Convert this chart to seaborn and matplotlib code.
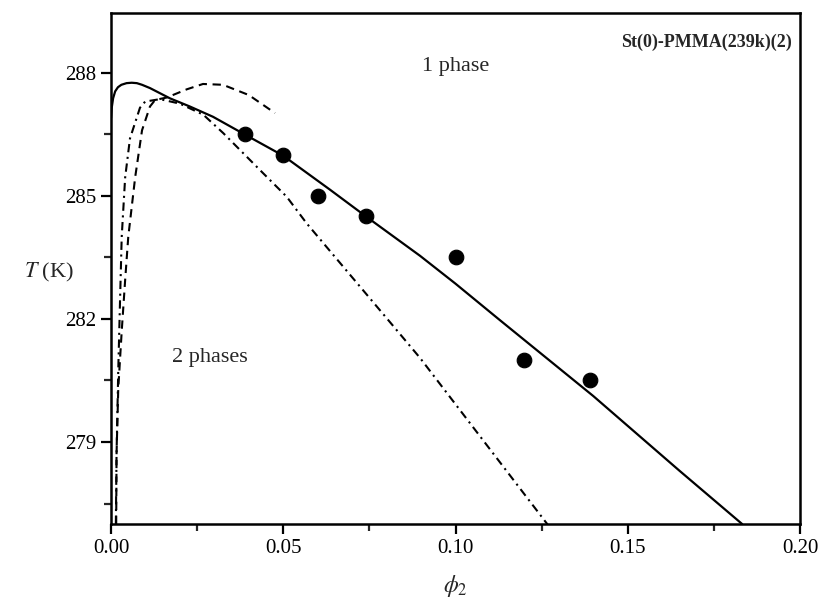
import numpy as np
import pandas as pd
import matplotlib
matplotlib.use("Agg")
import matplotlib.pyplot as plt
import seaborn as sns
from matplotlib.ticker import MultipleLocator

# experimental cloud points
exp_phi = [0.039, 0.050, 0.060, 0.074, 0.100, 0.120, 0.139]
exp_T = [286.5, 286.0, 285.0, 284.5, 283.5, 281.0, 280.5]

# model curves
solid_phi = [0.0, 0.0002, 0.0006, 0.0012, 0.002, 0.003, 0.0045, 0.006, 0.0075, 0.009,
             0.0113, 0.0171, 0.0229, 0.0296, 0.039, 0.050, 0.0636, 0.074, 0.0897,
             0.100, 0.1129, 0.140, 0.165, 0.1832]
solid_T = [286.9, 287.15, 287.38, 287.55, 287.65, 287.71, 287.75, 287.76, 287.75, 287.71,
           287.63, 287.38, 287.18, 286.93, 286.49, 285.98, 285.15, 284.5, 283.54,
           282.86, 281.97, 280.12, 278.3, 277.0]

dash_phi = [0.0015, 0.0016, 0.0021, 0.0031, 0.0041, 0.005, 0.007, 0.009, 0.0113,
            0.0128, 0.0162, 0.022, 0.0267, 0.0325, 0.040, 0.0476]
dash_T = [277.0, 278.7, 280.3, 281.7, 282.95, 284.0, 285.45, 286.6, 287.18,
          287.34, 287.4, 287.6, 287.73, 287.71, 287.46, 287.02]

dashdot_phi = [0.0014, 0.0016, 0.0021, 0.0026, 0.0031, 0.0041, 0.0055, 0.0084, 0.0099,
               0.0142, 0.020, 0.0268, 0.0326, 0.0384, 0.0442, 0.051, 0.0568, 0.0804,
               0.0897, 0.1268]
dashdot_T = [277.0, 278.7, 280.75, 282.4, 284.0, 285.45, 286.4, 287.15, 287.3,
             287.36, 287.25, 286.98, 286.53, 286.04, 285.55, 284.98, 284.33, 281.98,
             281.05, 276.98]

sns.set_style("ticks")
plt.rcParams['font.family'] = ['Liberation Serif', 'DejaVu Serif']
plt.rcParams['mathtext.fontset'] = 'stix'

fig = plt.figure(figsize=(8.2, 6.03), dpi=100)
ax = fig.add_axes([0.1354, 0.131, 0.8402, 0.8474])

solid_df = pd.DataFrame({'phi': solid_phi, 'T': solid_T})
dash_df = pd.DataFrame({'phi': dash_phi, 'T': dash_T})
dashdot_df = pd.DataFrame({'phi': dashdot_phi, 'T': dashdot_T})
exp_df = pd.DataFrame({'phi': exp_phi, 'T': exp_T})

sns.lineplot(data=solid_df, x='phi', y='T', sort=False, estimator=None, color='black',
             linewidth=1.6, ax=ax)
line = sns.lineplot(data=dash_df, x='phi', y='T', sort=False, estimator=None, color='black',
                    linewidth=1.5, ax=ax).lines[-1]
line.set_dashes([4, 2.7])
line = sns.lineplot(data=dashdot_df, x='phi', y='T', sort=False, estimator=None, color='black',
                    linewidth=1.5, ax=ax).lines[-1]
line.set_dashes([4, 2.2, 1, 2.2])
sns.scatterplot(data=exp_df, x='phi', y='T', color='black', s=110, edgecolor='black',
                zorder=5, ax=ax)

ax.set_xlim(0, 0.20)
ax.set_ylim(277.0, 289.46)
ax.xaxis.set_major_locator(MultipleLocator(0.05))
ax.xaxis.set_minor_locator(MultipleLocator(0.025))
ax.set_yticks([279, 282, 285, 288])
ax.yaxis.set_minor_locator(MultipleLocator(1.5))
ax.xaxis.set_major_formatter(matplotlib.ticker.FormatStrFormatter('%.2f'))

ax.tick_params(which='major', direction='out', length=7, width=1.6, labelsize=15,
               top=False, right=False, color='black', labelcolor='black')
ax.tick_params(which='minor', direction='out', length=5, width=1.6, top=False, right=False)
for sp in ax.spines.values():
    sp.set_linewidth(1.8)
    sp.set_color('black')

ax.set_xlabel(r'$\phi_2$', fontsize=17, labelpad=11)
ax.set_ylabel(r'$T$ (K)', fontsize=16, rotation=0, labelpad=0)
ax.yaxis.set_label_coords(-0.09, 0.47)

ax.text(0.1, 288.15, '1 phase', fontsize=16, ha='center', va='center')
ax.text(0.0287, 281.05, '2 phases', fontsize=16, ha='center', va='center')
ax.text(0.1975, 288.75, 'St(0)-PMMA(239k)(2)', fontsize=13, fontweight='bold',
        ha='right', va='center')

fig.savefig('out.png', dpi=100)
plt.close(fig)
